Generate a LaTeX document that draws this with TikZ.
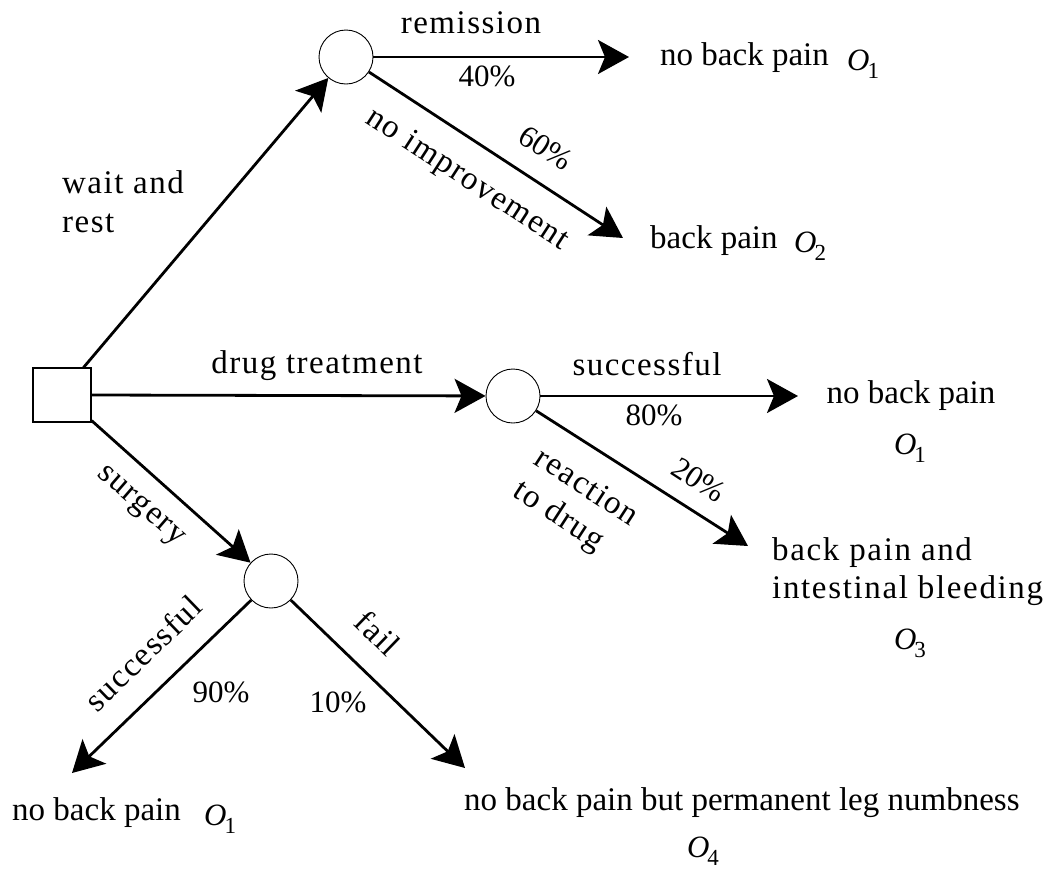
\documentclass[tikz,border=0pt]{standalone}
\usepackage{fontspec}
\setmainfont{Liberation Serif}
\newfontfamily\lblfont[LetterSpace=4.5]{Liberation Serif}
\newfontfamily\widefont[LetterSpace=5]{Liberation Serif}
\usetikzlibrary{arrows.meta}
\newcommand{\outc}[1]{{\fontsize{31}{31}\selectfont\itshape O}\kern-2pt\raisebox{-8pt}{\fontsize{23}{23}\selectfont #1}}
\tikzset{
  lbl/.style={font=\lblfont\fontsize{33}{39}\selectfont, inner sep=0pt},
  pct/.style={font=\fontsize{31}{36}\selectfont, inner sep=0pt},
  outtext/.style={font=\fontsize{33}{39}\selectfont, inner sep=0pt},
  widetext/.style={font=\widefont\fontsize{33}{38}\selectfont, inner sep=0pt},
  osym/.style={inner sep=0pt},
  chance/.style={circle, draw, line width=0.9pt, minimum size=54pt, inner sep=0pt},
  decision/.style={rectangle, draw, line width=1.1pt, minimum width=58pt, minimum height=54pt, inner sep=0pt},
  branch/.style={line width=2.8pt, -{Stealth[length=31pt,width=34pt,inset=7pt]}}
}
\begin{document}
\begin{tikzpicture}[x=1pt,y=-1pt]
\useasboundingbox (0,0) rectangle (1052,871);
% decision and chance nodes
\node[decision] (sq) at (62,395) {};
\node[chance] (c1) at (346,57) {};
\node[chance] (c2) at (513,396) {};
\node[chance] (c3) at (271,581) {};
% arrow ends
\coordinate (t1) at (629,57);
\coordinate (t2) at (623,238);
\coordinate (t3) at (798,396);
\coordinate (t4) at (748,546);
\coordinate (t5) at (72,773);
\coordinate (t6) at (465,768);
% branches
\draw[branch] ([xshift=-8pt]sq.north east) -- (c1);
\draw[branch] (sq.east) -- (c2);
\draw[branch] ([yshift=2pt]sq.south east) -- (c3);
\draw[branch] (c1.east) -- (t1);
\draw[branch] (c1) -- (t2);
\draw[branch] (c2.east) -- (t3);
\draw[branch] (c2) -- (t4);
\draw[branch] (c3) -- (t5);
\draw[branch] (c3) -- (t6);
% wait and rest branch
\node[lbl, anchor=base west, align=left] (lwait) at (62,232) {wait and\\rest};
\node[lbl, anchor=base] (lrem) at (471,33) {remission};
\node[pct] (p40) at (487,76) {40\%};
\node[lbl, rotate=-33] (lnoimp) at (467,180) {no improvement};
\node[pct, rotate=-33] (p60) at (546,148) {60\%};
\node[outtext, anchor=base west] (o1a) at (660,65) {no back pain};
\node[osym, anchor=base west] (s1a) at (847,70) {\outc{1}};
\node[outtext, anchor=base west] (o2) at (650,248) {back pain};
\node[osym, anchor=base west] (s2) at (794,252) {\outc{2}};
% drug branch
\node[lbl, anchor=base] (ldrug) at (317,373) {drug treatment};
\node[lbl, anchor=base] (lsucc1) at (647,375) {successful};
\node[pct] (p80) at (654,415) {80\%};
\node[outtext, anchor=base] (o1b) at (911,403) {no back pain};
\node[osym] (s1b) at (910,448) {\outc{1}};
\node[pct, rotate=-33] (p20) at (699,480) {20\%};
\node[lbl, rotate=-33, align=left] (lreact) at (575,505) {reaction\\to drug};
\node[widetext, anchor=base west, align=left] (o3) at (772,598) {back pain and\\intestinal bleeding};
\node[osym] (s3) at (910,643) {\outc{3}};
% surgery branch
\node[lbl, rotate=-41] (lsurg) at (140,507) {surgery};
\node[lbl, rotate=44] (lsucc2) at (143,653) {successful};
\node[lbl, rotate=-44] (lfail) at (378,633) {fail};
\node[pct] (p90) at (221,692) {90\%};
\node[pct] (p10) at (338,702) {10\%};
\node[outtext, anchor=base west] (o1c) at (12,820) {no back pain};
\node[osym, anchor=base west] (s1c) at (204,825) {\outc{1}};
\node[outtext, anchor=base west] (o4) at (464,810) {no back pain but permanent leg numbness};
\node[osym] (s4) at (703,851) {\outc{4}};
\end{tikzpicture}
\end{document}
